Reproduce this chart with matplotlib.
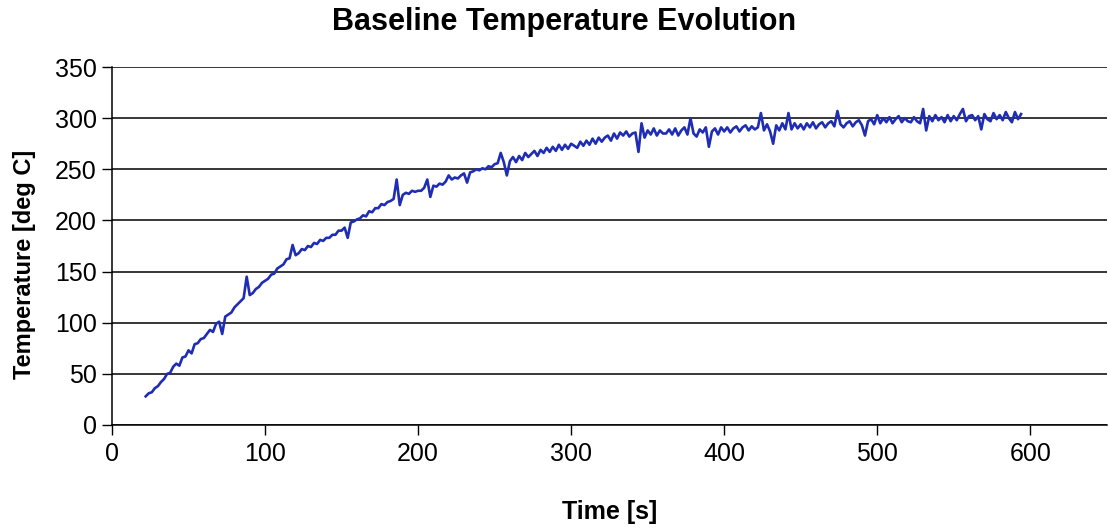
import numpy as np
import matplotlib
matplotlib.use("Agg")
import matplotlib.pyplot as plt

# time samples [s] (every 2 s from 22 to 594)
time_s = np.arange(22, 595, 2)

temp_c = [
    28, 31, 32, 36, 38, 42, 45, 50, 51, 57,
    60, 58, 66, 67, 73, 70, 79, 80, 84, 85,
    89, 93, 91, 99, 101, 89, 106, 108, 110, 115,
    118, 121, 124, 145, 127, 129, 133, 135, 139, 141,
    143, 147, 148, 153, 155, 157, 162, 163, 176, 166,
    168, 172, 171, 175, 174, 178, 177, 181, 180, 183,
    183, 186, 186, 190, 190, 193, 183, 198, 199, 201,
    202, 205, 204, 209, 208, 212, 212, 216, 215, 218,
    219, 221, 240, 215, 225, 227, 226, 229, 228, 229,
    229, 232, 240, 223, 234, 233, 236, 235, 238, 244,
    240, 242, 241, 244, 246, 237, 247, 248, 250, 249,
    251, 250, 253, 252, 255, 256, 266, 257, 244, 258,
    262, 257, 263, 259, 266, 262, 265, 268, 263, 269,
    266, 271, 267, 272, 268, 274, 269, 274, 270, 275,
    273, 271, 277, 273, 278, 274, 280, 275, 281, 277,
    281, 283, 278, 285, 280, 286, 283, 287, 282, 285,
    286, 267, 295, 281, 288, 284, 290, 283, 288, 285,
    285, 289, 284, 290, 283, 288, 291, 284, 300, 285,
    282, 289, 286, 291, 272, 287, 290, 284, 291, 287,
    291, 286, 290, 292, 287, 291, 293, 288, 292, 289,
    291, 305, 288, 294, 287, 275, 293, 288, 295, 289,
    305, 289, 295, 290, 294, 289, 295, 291, 296, 290,
    294, 296, 291, 295, 297, 292, 307, 294, 291, 295,
    297, 292, 296, 298, 293, 283, 297, 299, 294, 303,
    295, 300, 296, 301, 295, 299, 302, 296, 300, 297,
    296, 301, 297, 295, 309, 288, 302, 297, 303, 298,
    301, 296, 303, 297, 302, 298, 304, 309, 297, 302,
    303, 298, 302, 289, 304, 299, 297, 305, 299, 303,
    298, 306, 300, 296, 306, 299, 304,
]

x_ticks = [0, 100, 200, 300, 400, 500, 600]
y_ticks = [0, 50, 100, 150, 200, 250, 300, 350]

plt.rcParams['font.family'] = ['Liberation Sans', 'DejaVu Sans']

fig = plt.figure(figsize=(11.09, 5.29), dpi=100)
ax = fig.add_axes([0.101, 0.1966, 0.897, 0.6767])

ax.plot(time_s, temp_c, color='#1f2db4', linewidth=1.9, zorder=3)

ax.set_xlim(0, 650)
ax.set_ylim(0, 350)
ax.set_xticks(x_ticks)
ax.set_yticks(y_ticks)
ax.tick_params(axis='both', labelsize=18, length=7, width=1, direction='out')
ax.tick_params(axis='y', pad=4)
ax.tick_params(axis='x', pad=5)

ax.yaxis.grid(True, color='black', linewidth=1.1)
ax.set_axisbelow(True)
for s in ['top', 'right']:
    ax.spines[s].set_visible(False)
for s in ['left', 'bottom']:
    ax.spines[s].set_color('black')
    ax.spines[s].set_linewidth(1.1)

ax.set_xlabel('Time [s]', fontsize=18, fontweight='bold')
ax.set_ylabel('Temperature [deg C]', fontsize=17, fontweight='bold')
ax.xaxis.set_label_coords(0.5, -0.21)
ax.yaxis.set_label_coords(-0.076, 0.45)
fig.text(0.509, 0.958, 'Baseline Temperature Evolution', ha='center', va='center',
         fontsize=22, fontweight='bold')

fig.savefig('out.png', dpi=100)
